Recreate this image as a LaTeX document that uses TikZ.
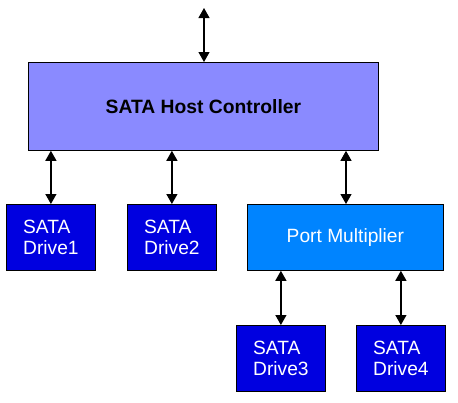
\documentclass[tikz,border=0pt]{standalone}
\usepackage{fontspec}
\setmainfont{Liberation Sans}
\usetikzlibrary{arrows.meta}
\definecolor{hostc}{HTML}{8A8AFF}
\definecolor{drivec}{HTML}{0000E0}
\definecolor{pmc}{HTML}{0084FF}
\tikzset{
  box/.style={draw=black, line width=0.8pt, inner sep=0pt, anchor=north west},
  drivebox/.style={box, fill=drivec, text=white, minimum width=89pt, minimum height=66pt,
    align=left, font=\fontsize{19.2}{21.5}\selectfont},
  link/.style={line width=1.2pt, {Triangle[width=11pt,length=10pt]}-{Triangle[width=11pt,length=10pt]}}
}
\begin{document}
\begin{tikzpicture}[x=1pt,y=-1pt]
\useasboundingbox (0,0) rectangle (458,402);
\node[box, fill=hostc, minimum width=350pt, minimum height=88pt, font=\bfseries\fontsize{19.3}{21}\selectfont] (host) at (28,62) {SATA Host Controller};
\coordinate (top) at (204,8);
\node[drivebox] (d1) at (6,204) {SATA\\Drive1};
\node[drivebox] (d2) at (127,204) {SATA\\Drive2};
\node[box, fill=pmc, text=white, minimum width=196pt, minimum height=66pt, font=\fontsize{19.2}{21}\selectfont] (pm) at (247,204) {Port Multiplier};
\node[drivebox] (d3) at (236,325) {SATA\\Drive3};
\node[drivebox] (d4) at (356,325) {SATA\\Drive4};
\draw[link] (top) -- (top |- host.north);
\draw[link] (host.south -| d1.north) -- (d1.north);
\draw[link] (host.south -| d2.north) -- (d2.north);
\draw[link] (host.south -| 346,0) -- (pm.north -| 346,0);
\draw[link] (pm.south -| d3.north) -- (d3.north);
\draw[link] (pm.south -| d4.north) -- (d4.north);
\end{tikzpicture}
\end{document}
